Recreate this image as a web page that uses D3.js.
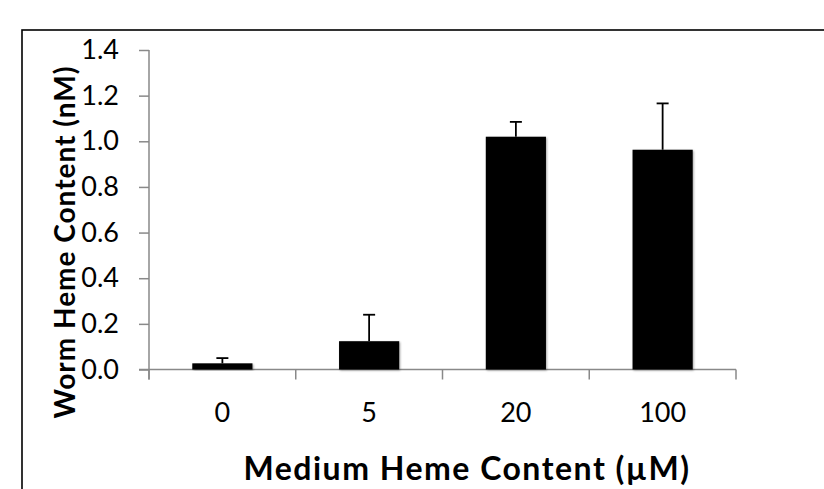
<!DOCTYPE html>
<html><head><meta charset="utf-8">
<script src="https://cdn.jsdelivr.net/npm/d3@7"></script>
<style>body{margin:0;background:#fff}svg{display:block}</style>
</head><body>
<svg id="c" width="824" height="489"></svg>
<script>
const categories = ["0", "5", "20", "100"];
const values = [0.027, 0.124, 1.02, 0.963];
const errors = [0.023, 0.116, 0.065, 0.203];
const yTicks = [0, 0.2, 0.4, 0.6, 0.8, 1.0, 1.2, 1.4];
const xTitle = "Medium Heme Content (µM)";
const yTitle = "Worm Heme Content (nM)";

const svg = d3.select("#c");
const font = "Lato, 'Open Sans', sans-serif";
const axisColor = "#898989";

// outer frame
svg.append("rect").attr("x", 22).attr("y", 30).attr("width", 900).attr("height", 600)
  .attr("fill", "none").attr("stroke", "#000").attr("stroke-width", 1.6);

const x = d3.scaleBand().domain(categories).range([149, 736]).paddingInner(0.59).paddingOuter(0.295);
const xb = d3.scaleBand().domain(categories).range([149, 736]);
const y = d3.scaleLinear().domain([0, 1.4]).range([369.5, 50]);

// y axis
const ya = svg.append("g").attr("transform", "translate(149,0)")
  .call(d3.axisLeft(y).tickValues(yTicks).tickFormat(d3.format(".1f")).tickSize(10).tickPadding(20));
ya.select(".domain").remove();
ya.selectAll(".tick line").attr("stroke", axisColor).attr("stroke-width", 1.5);
ya.selectAll(".tick text").attr("font-family", font).attr("font-size", 27).attr("fill", "#000");
ya.append("line").attr("x1", 0).attr("x2", 0).attr("y1", y(1.4)).attr("y2", y(0) + 10)
  .attr("stroke", axisColor).attr("stroke-width", 1.5);

// x axis
const xa = svg.append("g").attr("transform", `translate(0,${y(0)})`);
xa.append("line").attr("x1", 139).attr("x2", 736).attr("y1", 0).attr("y2", 0)
  .attr("stroke", axisColor).attr("stroke-width", 1.5);
const edges = categories.map(c => xb(c)).concat([xb(categories[categories.length - 1]) + xb.bandwidth()]);
xa.selectAll("line.cat").data(edges).enter().append("line").attr("class", "cat")
  .attr("x1", d => d).attr("x2", d => d).attr("y1", 0).attr("y2", 10)
  .attr("stroke", axisColor).attr("stroke-width", 1.5);
xa.selectAll("text").data(categories).enter().append("text")
  .attr("x", d => xb(d) + xb.bandwidth() / 2).attr("y", 52)
  .attr("text-anchor", "middle").attr("font-family", font).attr("font-size", 27).attr("fill", "#000")
  .text(d => d);

// bars
const defs = svg.append("defs");
const f = defs.append("filter").attr("id", "sh").attr("x", "-20%").attr("y", "-20%").attr("width", "140%").attr("height", "140%");
f.append("feGaussianBlur").attr("in", "SourceAlpha").attr("stdDeviation", 1.2).attr("result", "b");
f.append("feOffset").attr("in", "b").attr("dx", 1).attr("dy", 1).attr("result", "o");
f.append("feComponentTransfer").attr("in", "o").attr("result", "o2").append("feFuncA").attr("type", "linear").attr("slope", 0.35);
const m = f.append("feMerge"); m.append("feMergeNode").attr("in", "o2"); m.append("feMergeNode").attr("in", "SourceGraphic");

svg.append("g").selectAll("rect").data(categories).enter().append("rect")
  .attr("x", d => x(d)).attr("width", x.bandwidth())
  .attr("y", (d, i) => y(values[i])).attr("height", (d, i) => y(0) - y(values[i]))
  .attr("fill", "#000").attr("filter", "url(#sh)");

// error bars
const eg = svg.append("g").attr("stroke", "#000").attr("stroke-width", 1.8);
categories.forEach((c, i) => {
  const cx = x(c) + x.bandwidth() / 2;
  eg.append("line").attr("x1", cx).attr("x2", cx).attr("y1", y(values[i])).attr("y2", y(values[i] + errors[i]));
  eg.append("line").attr("x1", cx - 6).attr("x2", cx + 6).attr("y1", y(values[i] + errors[i])).attr("y2", y(values[i] + errors[i]));
});

// titles
svg.append("text").attr("x", 467).attr("y", 480).attr("text-anchor", "middle")
  .attr("font-family", font).attr("font-weight", "bold").attr("font-size", 32).attr("letter-spacing", 1.5)
  .attr("fill", "#000").text(xTitle);
svg.append("text").attr("transform", "translate(75,242) rotate(-90)").attr("text-anchor", "middle")
  .attr("font-family", font).attr("font-weight", "bold").attr("font-size", 28).attr("letter-spacing", 1)
  .attr("fill", "#000").text(yTitle);
</script>
</body></html>
